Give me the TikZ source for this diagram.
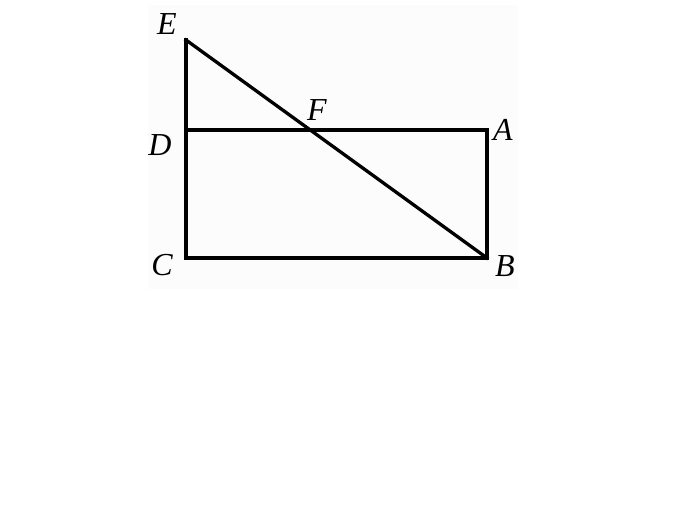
\documentclass[tikz,border=0pt]{standalone}
\usepackage{fontspec}
\setmainfont{Liberation Serif}
\begin{document}
\begin{tikzpicture}[x=1pt,y=-1pt,
  seg/.style={line width=3.3pt,line join=miter,line cap=rect},
  lab/.style={font=\fontsize{32}{34}\selectfont\itshape,inner sep=0pt}]
\useasboundingbox (0,0) rectangle (700,505);
\fill[fill={rgb,255:red,252;green,252;blue,252}] (148,5) rectangle (518,289);
\coordinate (E) at (186,40);
\coordinate (D) at (186,130);
\coordinate (C) at (186,258);
\coordinate (A) at (487,130);
\coordinate (B) at (487,258);
\coordinate (F) at (310.3,130);
\draw[seg] (E) -- (C) -- (B) -- (A) -- (D);
\draw[seg] (E) -- (B);
\node[lab] (lE) at (167,24) {E};
\node[lab] (lF) at (317,110) {F};
\node[lab] (lA) at (503,130) {A};
\node[lab] (lD) at (160,145) {D};
\node[lab] (lC) at (162,265) {C};
\node[lab] (lB) at (505,266) {B};
\end{tikzpicture}
\end{document}
